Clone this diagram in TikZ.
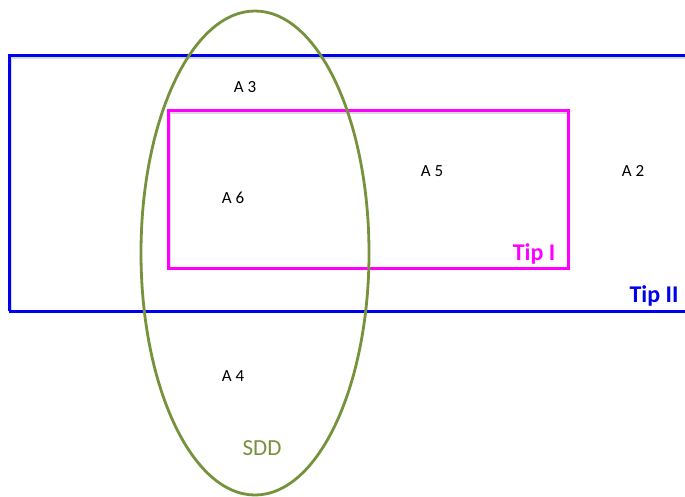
\documentclass[tikz,border=0pt]{standalone}
\usepackage{fontspec}
\setmainfont{Carlito}
\definecolor{tipblue}{RGB}{0,0,240}
\definecolor{tipmag}{RGB}{255,0,255}
\definecolor{sddgreen}{RGB}{118,146,60}
\begin{document}
\begin{tikzpicture}[x=1pt,y=-1pt,
  area/.style={font=\fontsize{17}{19}\selectfont, text=black},
  shadowline/.style={draw=black!15, line width=3pt}]
\useasboundingbox (0,0) rectangle (685,496);
\fill[white] (0,0) rectangle (685,496);
% shadows
\draw[shadowline] (10.5,311.5) -- (10.5,57.5) -- (690,57.5);
\draw[shadowline] (169.5,269.5) -- (169.5,112) -- (570,112);
% Tip II blue rectangle
\draw[tipblue, line width=3pt] (9,311) -- (9,55.5) -- (690,55.5);
\draw[tipblue, line width=3pt] (9,311) -- (690,311);
% Tip I magenta rectangle
\draw[tipmag, line width=3pt] (168,110) rectangle (568,268);
% SDD ellipse
\draw[sddgreen, line width=2.8pt] (255,253) ellipse [x radius=114, y radius=242];
% labels
\node[area] (a3) at (245,87) {A 3};
\node[area] (a6) at (233,198) {A 6};
\node[area] (a5) at (432,171) {A 5};
\node[area] (a2) at (633,171) {A 2};
\node[area] (a4) at (233,376) {A 4};
\node[text=sddgreen, font=\fontsize{23}{25}\selectfont] (sdd) at (262,448) {SDD};
\node[text=tipmag, font=\bfseries\fontsize{24}{26}\selectfont] (tipi) at (534,254) {Tip I};
\node[text=tipblue, font=\bfseries\fontsize{24}{26}\selectfont] (tipii) at (654,296) {Tip II};
\end{tikzpicture}
\end{document}
